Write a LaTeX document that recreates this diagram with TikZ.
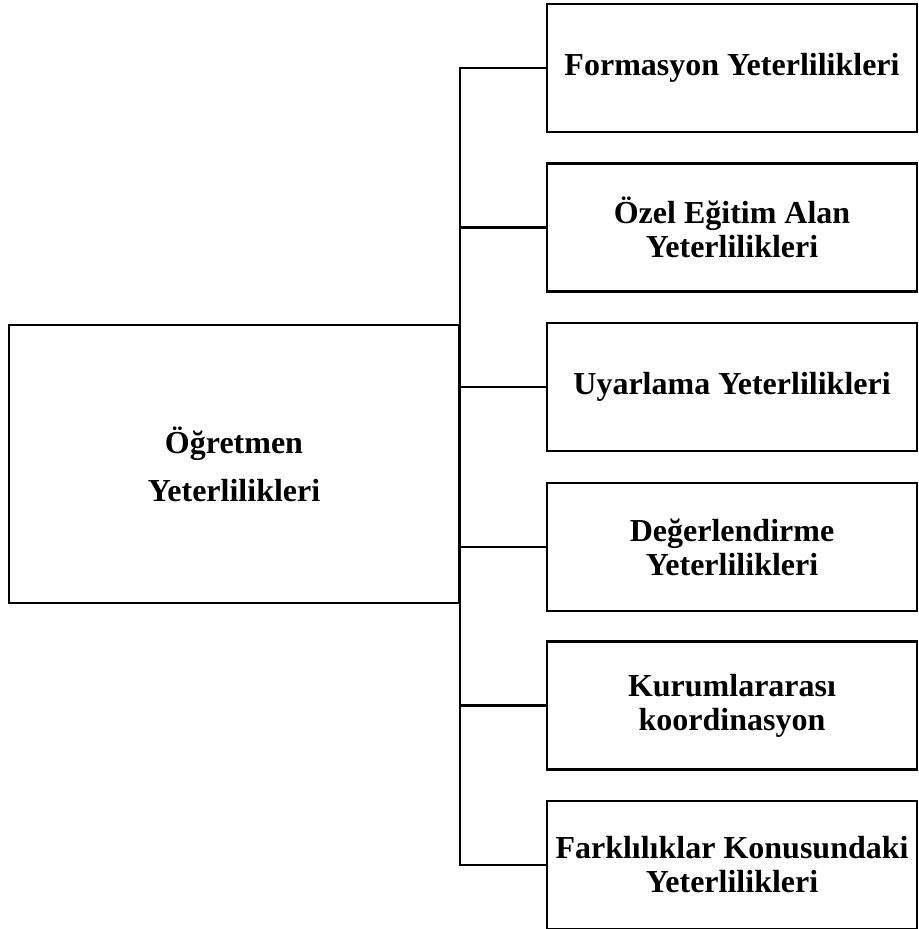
\documentclass[tikz,border=0pt]{standalone}
\usepackage{fontspec}
\setmainfont{Liberation Serif}
\usepackage{tikz}

\begin{document}
\begin{tikzpicture}[x=0.5pt, y=-0.5pt, line width=1.2pt,
    kutu/.style={draw, align=center, font=\bfseries\fontsize{16}{17}\selectfont,
                 minimum width=185pt, minimum height=64pt, inner sep=0pt},
    ana/.style={draw, align=center, font=\bfseries\fontsize{16}{24}\selectfont,
                minimum width=225pt, minimum height=139pt, inner sep=0pt}]
    \useasboundingbox (0, 0) rectangle (918, 929);

    \node[ana](ogr) at (234, 464) {Öğretmen\\Yeterlilikleri};

    \node[kutu](f1) at (732,  68) {Formasyon Yeterlilikleri};
    \node[kutu](f2) at (732, 227.5) {Özel Eğitim Alan\\Yeterlilikleri};
    \node[kutu](f3) at (732, 387) {Uyarlama Yeterlilikleri};
    \node[kutu](f4) at (732, 547) {Değerlendirme\\Yeterlilikleri};
    \node[kutu](f5) at (732, 705.5) {Kurumlararası\\koordinasyon};
    \node[kutu](f6) at (732, 865) {Farklılıklar Konusundaki\\Yeterlilikleri};

    \draw (f1.west) -| (ogr.east);
    \draw (f2.west) -| (ogr.east);
    \draw (f3.west) -| (ogr.east);
    \draw (f4.west) -| (ogr.east);
    \draw (f5.west) -| (ogr.east);
    \draw (f6.west) -| (ogr.east);
  \end{tikzpicture}
\end{document}
